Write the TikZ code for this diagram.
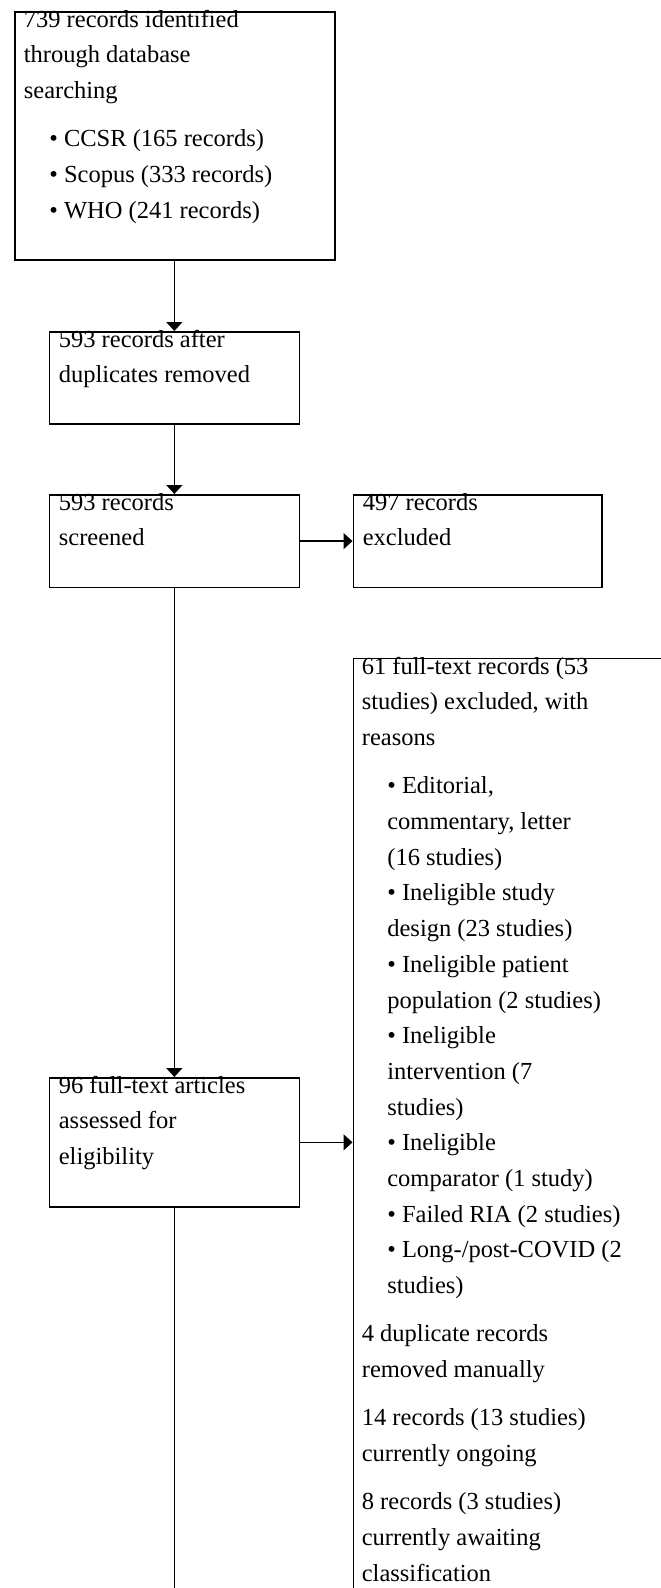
\documentclass[tikz,border=0pt]{standalone}
\usepackage{fontspec}
\setmainfont{Liberation Serif}
\usetikzlibrary{arrows.meta}
\newcommand{\indbul}{\hspace*{25.5pt}}

\begin{document}
\begin{tikzpicture}[x=1pt,y=-1pt,line width=1.7pt,>={Triangle[length=9pt,width=16pt]},
  font=\fontsize{24.5}{35.7}\selectfont,
  bx/.style={draw,inner sep=0pt,anchor=north west},
  txt/.style={align=left,inner sep=0pt,anchor=base west}]
  \useasboundingbox (0,0) rectangle (661,1588);
  \fill[white] (0,0) rectangle (661,1588);
  \clip (0,0) rectangle (661,1588);
  % boxes
  \node[bx,minimum width=320pt,minimum height=248pt] (ident) at (14,11) {};
  \node[bx,minimum width=250pt,minimum height=92pt] (dedup) at (48.5,331) {};
  \node[bx,minimum width=250pt,minimum height=92.5pt] (screen) at (48.5,494) {};
  \node[bx,minimum width=248.5pt,minimum height=92.5pt] (excl) at (352.5,494) {};
  \node[bx,minimum width=250pt,minimum height=129pt] (full) at (48.5,1077) {};
  \node[bx,minimum width=400pt,minimum height=1000pt] (reas) at (352.5,657.5) {};
  \coordinate (out) at (175,1600);
  % texts (placed by the baseline of their last line)
  \node[txt] (identtxt) at (23,218) {739 records identified\\through database\\searching\\[12.5pt]
    \indbul• CCSR (165 records)\\\indbul• Scopus (333 records)\\\indbul• WHO (241 records)};
  \node[txt] (deduptxt) at (58,382.7) {593 records after\\duplicates removed};
  \node[txt] (screentxt) at (58,545.7) {593 records\\screened};
  \node[txt] (excltxt) at (362,545.7) {497 records\\excluded};
  \node[txt] (fulltxt) at (58,1164.4) {96 full-text articles\\assessed for\\eligibility};
  \node[txt] (reastxt) at (361,1581) {61 full-text records (53\\studies) excluded, with\\reasons\\[12.5pt]
    \indbul• Editorial,\\\indbul commentary, letter\\\indbul (16 studies)\\
    \indbul• Ineligible study\\\indbul design (23 studies)\\
    \indbul• Ineligible patient\\\indbul population (2 studies)\\
    \indbul• Ineligible\\\indbul intervention (7\\\indbul studies)\\
    \indbul• Ineligible\\\indbul comparator (1 study)\\
    \indbul• Failed RIA (2 studies)\\
    \indbul• Long-/post-COVID (2\\\indbul studies)\\[12.5pt]
    4 duplicate records\\removed manually\\[12.5pt]
    14 records (13 studies)\\currently ongoing\\[12.5pt]
    8 records (3 studies)\\currently awaiting\\classification};
  % arrows
  \draw[->] (ident.south -| dedup.north) -- (dedup.north);
  \draw[->] (dedup) -- (screen);
  \draw[->] (screen) -- (full);
  \draw[->] (screen) -- (excl);
  \draw[->] (full.east) -- (full.east -| reas.west);
  \draw (full.south) -- (full.south |- out);
\end{tikzpicture}
\end{document}
